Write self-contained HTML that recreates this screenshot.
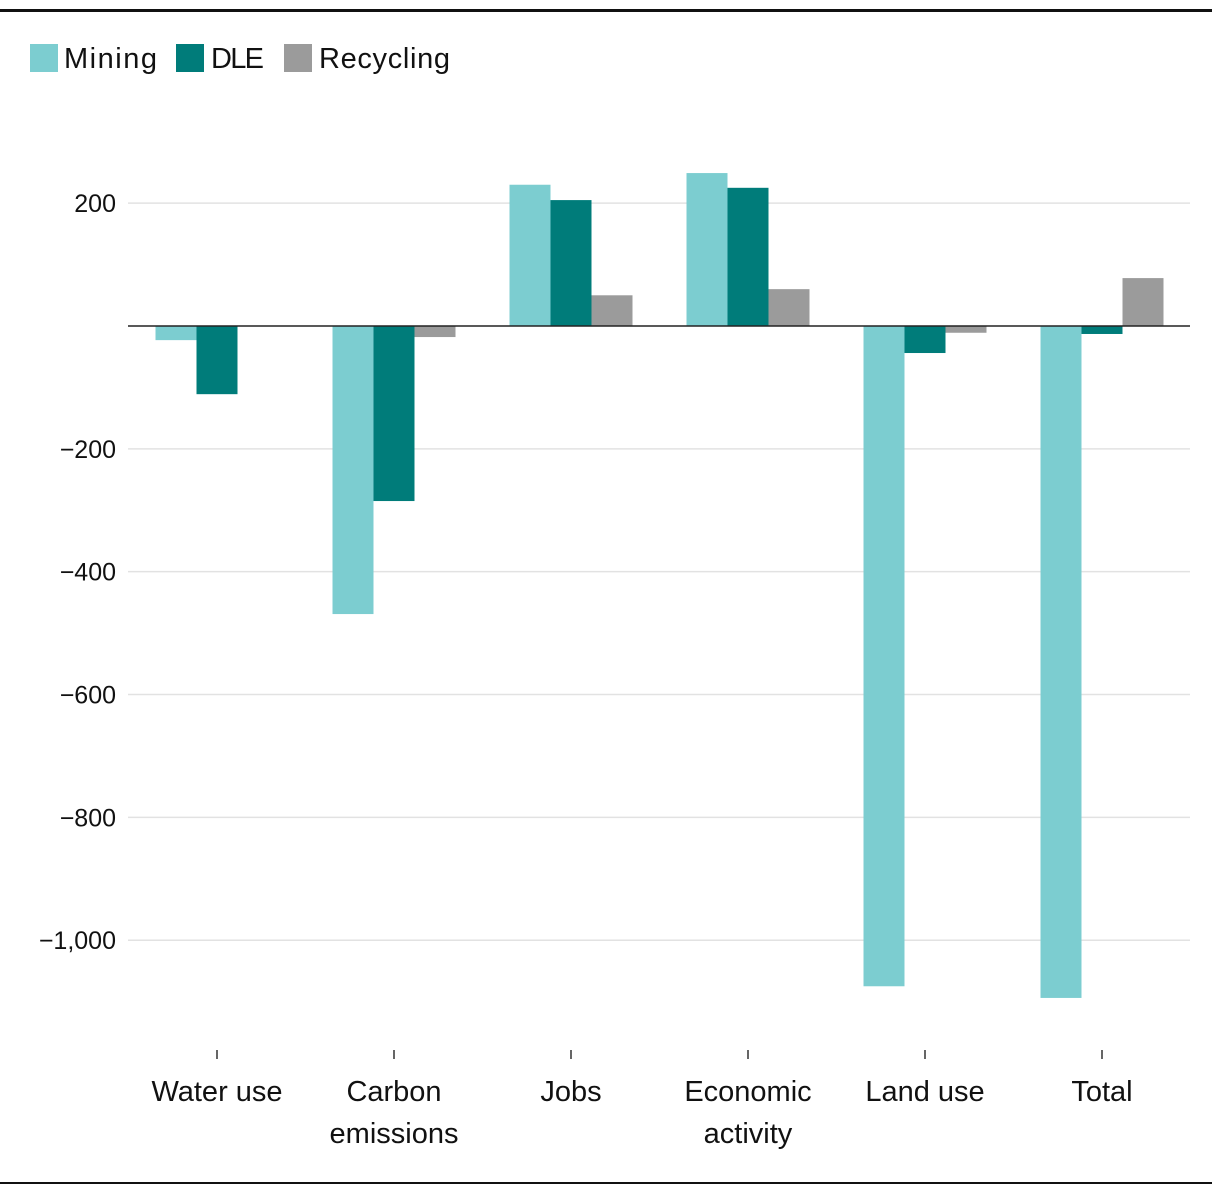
<!DOCTYPE html>
<html><head><meta charset="utf-8"><style>
body{margin:0;background:#fff;}
svg text{font-family:"Liberation Sans",sans-serif;fill:#111;}
</style></head><body>
<svg id="chart" width="1220" height="1194" xmlns="http://www.w3.org/2000/svg">
<rect x="0" y="9" width="1212" height="3" fill="#111"/>
<rect x="0" y="1182" width="1212" height="2" fill="#111"/>
<g>
<rect x="30" y="44" width="28" height="28" fill="#7ccdd0"/>
<text x="64" y="68" font-size="29" textLength="93">Mining</text>
<rect x="176" y="44" width="28" height="28" fill="#007c7a"/>
<text x="211" y="68" font-size="29" textLength="53">DLE</text>
<rect x="284" y="44" width="28" height="28" fill="#9b9b9b"/>
<text x="319" y="68" font-size="29" textLength="131">Recycling</text>
</g>
<g id="grid"></g><g id="bars"></g><g id="axes"></g>
</svg>
<script>
const categories=[["Water use"],["Carbon","emissions"],["Jobs"],["Economic","activity"],["Land use"],["Total"]];
const mining=[-23,-469,230,249,-1075,-1094];
const dle=[-111,-285,205,225,-44,-13];
const recycling=[0,-18,50,60,-11,78];
const yTicks=[200,0,-200,-400,-600,-800,-1000];
const yTickLabels=["200","","\u2212200","\u2212400","\u2212600","\u2212800","\u22121,000"];
const NS="http://www.w3.org/2000/svg";
const plotL=128,plotR=1190,bandStart=128.5,step=177,barW=41;
function y(v){return 326-v*0.6142;}
function xc(i){return bandStart+step*(i+0.5);}
function mk(tag,attrs,parent){const e=document.createElementNS(NS,tag);for(const k in attrs)e.setAttribute(k,attrs[k]);parent.appendChild(e);return e;}
const grid=document.getElementById('grid'),bars=document.getElementById('bars'),axes=document.getElementById('axes');
yTicks.forEach((t,i)=>{
 if(t!==0){const l=mk('line',{x1:plotL,x2:plotR,y1:y(t),y2:y(t),stroke:'#e2e2e2','stroke-width':1.5},grid);
 
 }
 if(yTickLabels[i]){const tx=mk('text',{x:116,y:y(t)+9,'font-size':25,'text-anchor':'end'},axes);tx.textContent=yTickLabels[i];
 
 }
});
const series=[[mining,'#7ccdd0','mining'],[dle,'#007c7a','dle'],[recycling,'#9b9b9b','recycling']];
categories.forEach((c,i)=>{
 series.forEach((s,j)=>{
  const v=s[0][i];const x=xc(i)-1.5*barW+j*barW;
  const r=mk('rect',{x:x,y:Math.min(y(v),y(0)),width:barW,height:Math.abs(y(v)-y(0)),fill:s[1]},bars);
  
  
 });
 const tk=mk('line',{x1:xc(i),x2:xc(i),y1:1050,y2:1059,stroke:'#333','stroke-width':1.5},axes);
 
 
 c.forEach((ln,k)=>{const tx=mk('text',{x:xc(i),y:1101+k*42,'font-size':29,'text-anchor':'middle'},axes);tx.textContent=ln;
  
  });
});
const z=mk('line',{x1:plotL,x2:plotR,y1:y(0),y2:y(0),stroke:'#222','stroke-width':1.5},axes);


</script>
</body></html>
